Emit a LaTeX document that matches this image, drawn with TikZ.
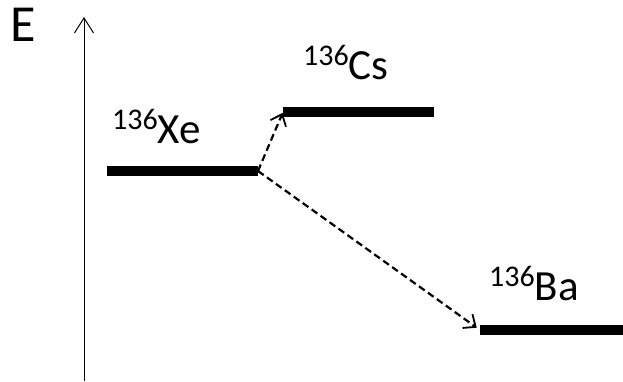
\documentclass[tikz,border=0pt]{standalone}
\usepackage{fontspec}
\setmainfont{Carlito}
\usetikzlibrary{arrows.meta}
\newcommand{\iso}[2]{{\fontsize{30}{30}\selectfont\raisebox{14pt}{#1}}#2}
\tikzset{
  level/.style={line width=9.5pt},
  decay/.style={dashed,line width=2.2pt,dash pattern=on 7pt off 4pt,-{Straight Barb[length=10pt,width=17pt,line width=1.8pt]}},
  lbl/.style={anchor=base west,inner sep=0pt,font=\fontsize{43}{43}\selectfont}
}
\begin{document}
\begin{tikzpicture}[x=1pt,y=-1pt]
    \useasboundingbox (0,0) rectangle (623,381);
    % energy axis
    \coordinate (axbot) at (84,381);
    \coordinate (axtop) at (84,17);
    \draw [line width=1pt,-{Straight Barb[length=15pt,width=19pt,line width=1pt]}](axbot)--(axtop);
    \node (E) at (23,25)[inner sep=0pt,font=\fontsize{52}{52}\selectfont]{E};
    % levels
    \coordinate (xeL) at (107,171); \coordinate (xeR) at (258,171);
    \coordinate (csL) at (283,112); \coordinate (csR) at (434,112);
    \coordinate (baL) at (480,330); \coordinate (baR) at (623,330);
    \draw [level](xeL)--(xeR);
    \draw [level](csL)--(csR);
    \draw [level](baL)--(baR);
    \node (xe) at (112,143)[lbl]{\iso{136}{Xe}};
    \node (cs) at (303,79)[lbl]{\iso{136}{Cs}};
    \node (ba) at (489,300)[lbl]{\iso{136}{Ba}};
    % decays
    \draw [decay,shorten >=1pt](xeR)--(csL);
    \draw [decay,shorten >=4pt](xeR)--(baL);
\end{tikzpicture}
\end{document}
